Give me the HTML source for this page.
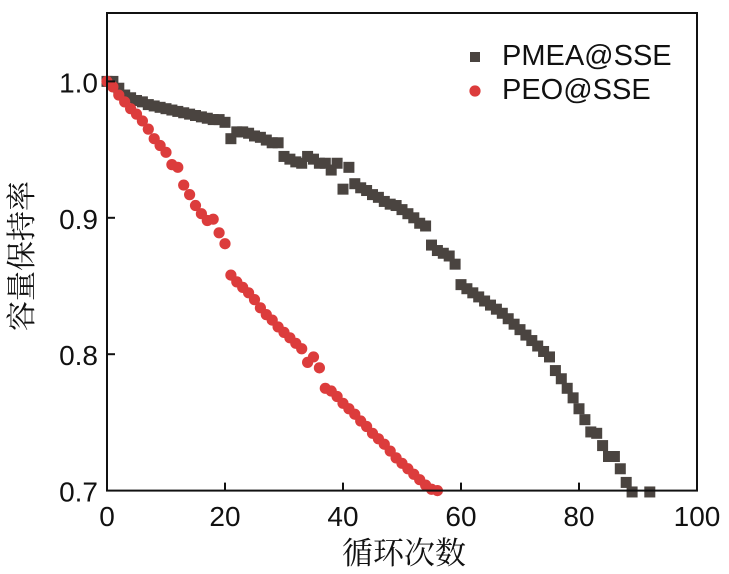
<!DOCTYPE html>
<html><head><meta charset="utf-8"><style>
html,body{margin:0;padding:0;background:#fff;width:729px;height:574px;overflow:hidden}
svg{display:block}
text{font-family:"Liberation Sans",Arial,sans-serif;fill:#111}
.cjk{font-family:"Liberation Serif","Noto Serif CJK SC",serif}
</style></head><body>
<svg id="chart" width="729" height="574"></svg>
<script>
const xTicks=[0,20,40,60,80,100];
const yTicks=[0.7,0.8,0.9,1.0];
const yTickLabels=["0.7","0.8","0.9","1.0"];
const pmeaCycles=[0,1,2,3,4,5,6,7,8,9,10,11,12,13,14,15,16,17,18,19,20,21,22,23,24,25,26,27,28,29,30,31,32,33,34,35,36,37,38,39,40,41,42,43,44,45,46,47,48,49,50,51,52,53,54,55,56,57,58,59,60,61,62,63,64,65,66,67,68,69,70,71,72,73,74,75,76,77,78,79,80,81,82,83,84,85,86,87,88,89,92];
const pmeaValues=[1.0,1.0,0.995,0.99,0.988,0.986,0.985,0.983,0.982,0.981,0.98,0.979,0.978,0.977,0.976,0.975,0.974,0.973,0.972,0.972,0.970,0.958,0.963,0.963,0.962,0.960,0.959,0.957,0.955,0.955,0.945,0.943,0.941,0.940,0.945,0.943,0.940,0.940,0.935,0.940,0.921,0.937,0.925,0.922,0.920,0.917,0.915,0.912,0.910,0.909,0.906,0.903,0.900,0.896,0.894,0.880,0.876,0.874,0.872,0.866,0.851,0.848,0.845,0.842,0.839,0.836,0.833,0.830,0.826,0.822,0.818,0.814,0.810,0.806,0.802,0.798,0.788,0.782,0.775,0.768,0.760,0.752,0.743,0.742,0.733,0.725,0.725,0.716,0.706,0.699,0.699];
const peoCycles=[0,1,2,3,4,5,6,7,8,9,10,11,12,13,14,15,16,17,18,19,20,21,22,23,24,25,26,27,28,29,30,31,32,33,34,35,36,37,38,39,40,41,42,43,44,45,46,47,48,49,50,51,52,53,54,55,56];
const peoValues=[1.0,0.996,0.99,0.985,0.98,0.976,0.971,0.965,0.958,0.953,0.948,0.939,0.937,0.924,0.917,0.909,0.903,0.898,0.899,0.889,0.881,0.858,0.853,0.849,0.845,0.840,0.834,0.829,0.825,0.820,0.816,0.812,0.808,0.804,0.794,0.798,0.790,0.775,0.773,0.769,0.764,0.760,0.756,0.751,0.747,0.742,0.738,0.734,0.729,0.724,0.720,0.716,0.712,0.708,0.704,0.701,0.700];

const NS="http://www.w3.org/2000/svg";
const svg=document.getElementById('chart');
const L=107,R=697,T=13,B=490.6;
const xMin=0,xMax=100,yMin=0.7,yMax=1.0;
const yPx1=81.4;
function sx(v){return L+(v-xMin)/(xMax-xMin)*(R-L);}
function sy(v){return B+(v-yMin)/(yMax-yMin)*(yPx1-B);}
function mk(tag,attrs,parent){const e=document.createElementNS(NS,tag);for(const k in attrs)e.setAttribute(k,attrs[k]);(parent||svg).appendChild(e);return e;}

const gP=mk('g',{});


pmeaCycles.forEach((c,i)=>{
  const r=mk('rect',{x:sx(c)-5.5,y:sy(pmeaValues[i])-5.5,width:11,height:11,fill:'#4a4440'},gP);
  
  
});
const gE=mk('g',{});


peoCycles.forEach((c,i)=>{
  const r=mk('circle',{cx:sx(c),cy:sy(peoValues[i]),r:5.6,fill:'#dc3c3c'},gE);
  
  
});

const fr=mk('rect',{x:L,y:T,width:R-L,height:B-T,fill:'none',stroke:'#111','stroke-width':2});



xTicks.forEach(t=>{
  const x=sx(t);
  if(t>xMin&&t<xMax){const l=mk('line',{x1:x,x2:x,y1:B,y2:B-8,stroke:'#111','stroke-width':2});
  
  }
  const tx=mk('text',{x:x,y:526,'font-size':28,'text-anchor':'middle'});
  tx.textContent=t;
  
  
});
yTicks.forEach((t,i)=>{
  const y=sy(t);
  if(t>yMin){const l=mk('line',{x1:L,x2:L+8,y1:y,y2:y,stroke:'#111','stroke-width':2});
  
  }
  const tx=mk('text',{x:98,y:y+11,'font-size':28,'text-anchor':'end'});
  tx.textContent=yTickLabels[i];
  
  
});

const xt=mk('text',{x:404,y:564,'font-size':31,'text-anchor':'middle',class:'cjk'});
xt.textContent='循环次数';


const yt=mk('text',{x:0,y:0,'font-size':30,'text-anchor':'middle',class:'cjk',transform:'translate(32,256) rotate(-90)'});
yt.textContent='容量保持率';



const lg=mk('g',{});


const ls=mk('rect',{x:470,y:52,width:10,height:10,fill:'#4a4440'},lg);


const lt1=mk('text',{x:502,y:65,'font-size':29},lg);
lt1.textContent='PMEA@SSE';


const lc=mk('circle',{cx:475,cy:91,r:5.6,fill:'#dc3c3c'},lg);


const lt2=mk('text',{x:502,y:99,'font-size':29},lg);
lt2.textContent='PEO@SSE';


</script>
</body></html>
